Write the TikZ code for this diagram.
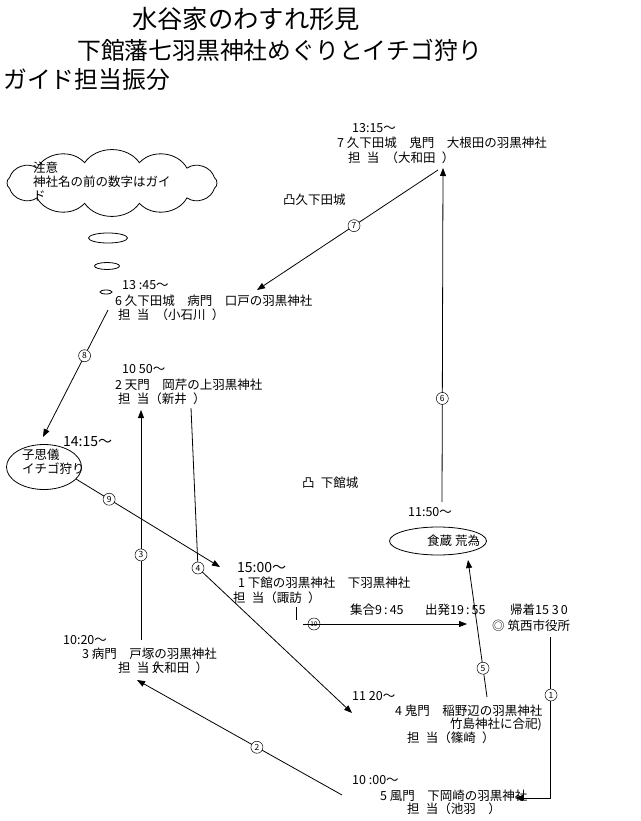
\documentclass[tikz,border=0pt]{standalone}
\usepackage{fontspec}
\setmainfont{Noto Sans CJK JP}
\usetikzlibrary{arrows.meta,shapes.geometric}
\newcommand\jgap{\hspace{1em}}
\newcommand\hgap{\hspace{0.5em}}
\begin{document}
\begin{tikzpicture}[x=1pt,y=-1pt,
  txt/.style={anchor=west,inner sep=0pt,font=\fontsize{12.5}{14}\selectfont},
  big/.style={anchor=west,inner sep=0pt,font=\fontsize{23.8}{26}\selectfont},
  tm/.style={anchor=west,inner sep=0pt,font=\fontsize{14}{16}\selectfont},
  circ/.style={circle,draw,fill=white,inner sep=0pt,minimum size=12pt,line width=0.5pt,font=\fontsize{8.5}{9}\selectfont},
  circo/.style={circ,fill=none},
  conn/.style={line width=0.8pt},
  arr/.style={conn,-{Triangle[length=8pt,width=6pt]}},
  oval/.style={ellipse,draw,line width=0.8pt,inner sep=0pt},
  cloudline/.style={line width=0.8pt}
]
\useasboundingbox[fill=white] (0,0) rectangle (640,821);

% title
\node[big,font=\fontsize{25.3}{27}\selectfont] (t1) at (132,19) {水谷家のわすれ形見};
\node[big] (t2) at (77,50) {下館藩七羽黒神社めぐりとイチゴ狩り};
\node[big] (t3) at (3,80) {ガイド担当振分};

% cloud
\coordinate (cc) at (112,183);
\draw[cloudline] ({112+106*cos(15)},{183+21*sin(15)})
  \foreach \a in {45,75,...,375} { to[bend left=55] ({112+106*cos(\a)},{183+21*sin(\a)}) } -- cycle;
\node[txt] (c1) at (33,168) {注意};
\node[txt] (c2) at (33,182) {神社名の前の数字はガイ};
\node[txt] (c3) at (33,196) {ド};
\node[oval,minimum width=39pt,minimum height=10pt] (b1) at (108,238) {};
\node[oval,minimum width=25pt,minimum height=7pt] (b2) at (107,266) {};
\node[oval,minimum width=12pt,minimum height=4pt] (b3) at (106,292) {};

% castles
\node[txt] (kc) at (283,200) {凸久下田城};
\node[txt] (sc) at (302,483) {凸\hgap 下館城};

% node 7
\node[txt] (n7a) at (352,128) {13:15～};
\node[txt] (n7b) at (337,143) {7\ 久下田城\jgap 鬼門\jgap 大根田の羽黒神社};
\node[txt] (n7c) at (348,158) {担\hgap 当\hgap （大和田\hgap ）};

% node 6
\node[txt] (n6a) at (122,285) {13 :45～};
\node[txt] (n6b) at (115,301) {6\ 久下田城\jgap 病門\jgap 口戸の羽黒神社};
\node[txt] (n6c) at (118,315) {担\hgap 当\hgap （小石川\hgap ）};

% node 2
\node[txt] (n2a) at (122,369) {10 50～};
\node[txt] (n2b) at (115,385) {2\ 天門\jgap 岡芹の上羽黒神社};
\node[txt] (n2c) at (118,399) {担\hgap 当（新井\hgap ）};

% kosigi
\node[tm] (n9a) at (63,442) {14:15～};
\node[oval,minimum width=75pt,minimum height=45pt] (ks) at (44,467) {};
\node[txt] (ksa) at (22,455) {子思儀};
\node[txt] (ksb) at (22,469) {イチゴ狩り};

% lunch
\node[txt] (lna) at (408,512) {11:50～};
\node[oval,minimum width=97pt,minimum height=28pt] (ln) at (438,541) {};
\node[txt] (lnb) at (427,541) {食蔵\ 荒為};

% node 1
\node[tm] (n1a) at (237,568) {15:00～};
\node[txt] (n1b) at (238,583) {1\ 下館の羽黒神社\jgap 下羽黒神社};
\node[txt] (n1c) at (233,598) {担\hgap 当（諏訪\hgap ）};

\node[txt] (meet1) at (350,610) {集合9\,:\,45};
\node[txt] (meet2) at (425,610) {出発19\,:\,55};
\node[txt] (meet3) at (510,610) {帰着15\ 3\,0};
\node[txt] (city) at (492,626) {◎ 筑西市役所};

% node 3
\node[txt] (n3a) at (63,640) {10:20～};
\node[txt] (n3b) at (82,654) {3\ 病門\jgap 戸塚の羽黒神社};
\node[txt] (n3c) at (118,668) {担\hgap 当\hspace{-4pt}（\hspace{-6pt}大和田\hgap ）};

% node 4
\node[txt] (n4a) at (352,696) {11 20～};
\node[txt] (n4b) at (395,711) {4\ 鬼門\jgap 稲野辺の羽黒神社};
\node[txt] (n4c) at (450,724) {竹島神社に合祀)};
\node[txt] (n4d) at (407,738) {担\hgap 当（篠崎\hgap ）};

% node 5
\node[txt] (n5a) at (352,780) {10 :00～};
\node[txt] (n5b) at (380,796) {5\ 風門\jgap 下岡崎の羽黒神社};
\node[txt] (n5c) at (407,809) {担\hgap 当（池羽\jgap ）};

% connector end points
\coordinate (p7s) at (438,170);
\coordinate (p7e) at (257,290);
\coordinate (p6s) at (442,502);
\coordinate (p6e) at (443,168);
\coordinate (p5s) at (487,697);
\coordinate (p5e) at (468,560);
\coordinate (p8s) at (108,310);
\coordinate (p8e) at (43,437);
\coordinate (p9s) at (76,479);
\coordinate (p9e) at (220,567);
\coordinate (p3s) at (141,640);
\coordinate (p3e) at (141,410);
\coordinate (p4s) at (191,408);
\coordinate (p4m) at (198,568);
\coordinate (p4e) at (352,713);
\coordinate (p2s) at (342,795);
\coordinate (p2e) at (137,680);
\coordinate (p1s) at (550,637);
\coordinate (p1m) at (550,798);
\coordinate (p1e) at (515,798);
\coordinate (p10s) at (303,624);
\coordinate (p10e) at (467,624);
\coordinate (tk1) at (296,607);
\coordinate (tk2) at (296,620);

% connectors
\draw[arr] (p7s) -- node[circ,pos=0.464] (l7) {7} (p7e);
\draw[arr] (p6s) -- node[circ,pos=0.31] (l6) {6} (p6e);
\draw[arr] (p5s) -- node[circ,pos=0.21] (l5) {5} (p5e);
\draw[arr] (p8s) -- node[circ,pos=0.36] (l8) {8} (p8e);
\draw[arr] (p9s) -- node[circ,pos=0.23] (l9) {9} (p9e);
\draw[arr] (p3s) -- node[circ,pos=0.37] (l3) {3} (p3e);
\draw[arr] (p4s) -- (p4m) -- (p4e);
\node[circ] (l4) at (p4m) {4};
\draw[arr] (p2s) -- node[circ,pos=0.415] (l2) {2} (p2e);
\draw[arr] (p1s) -- (p1m) -- (p1e);
\node[circ] (l1) at (551,695) {1};
\draw[conn] (tk1) -- (tk2);
\draw[arr] (p10s) -- node[circo,pos=0.067,font=\fontsize{6.5}{7}\selectfont] (l10) {10} (p10e);
\end{tikzpicture}
\end{document}
